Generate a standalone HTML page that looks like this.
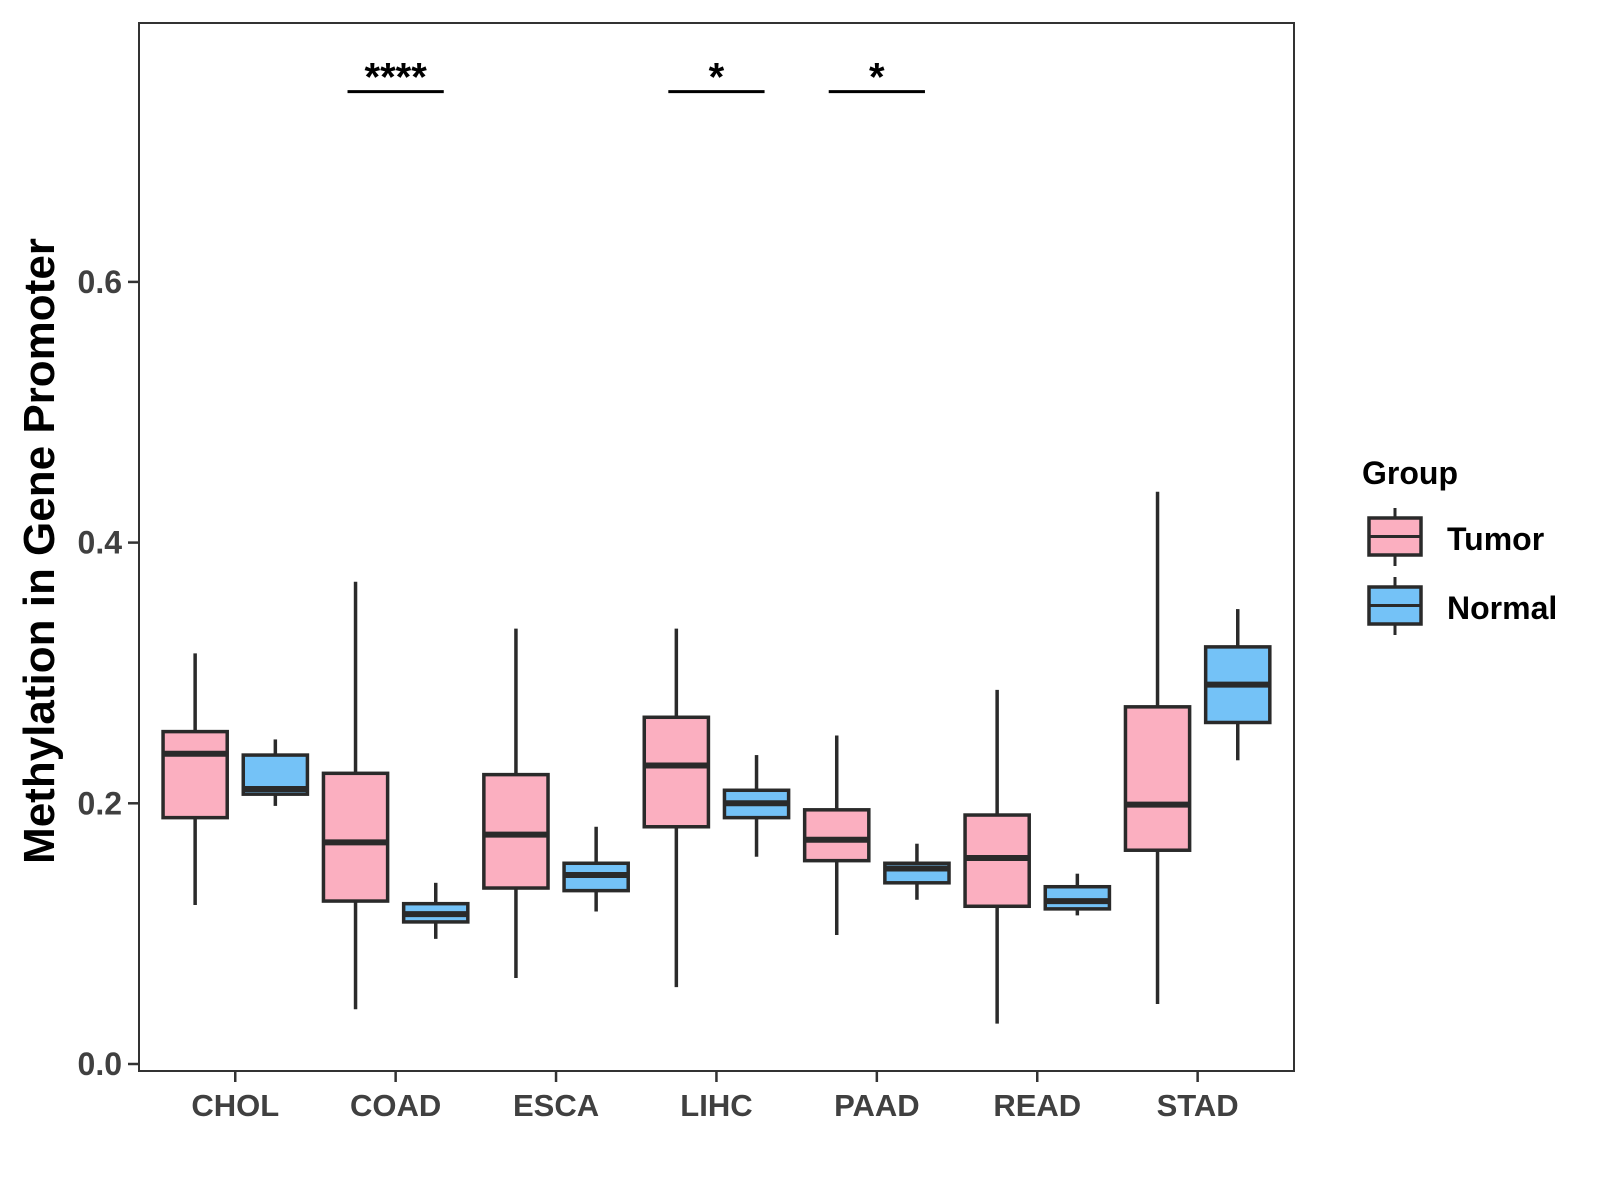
<!DOCTYPE html>
<html><head><meta charset="utf-8"><style>
html,body{margin:0;padding:0;background:#fff}
svg{display:block;font-family:"Liberation Sans",Arial,sans-serif}
</style></head><body>
<svg id="chart" width="1600" height="1200" viewBox="0 0 1600 1200">
<rect width="1600" height="1200" fill="#fff"/>
<g id="plot"></g>
</svg>
<script>
const categories = ["CHOL","COAD","ESCA","LIHC","PAAD","READ","STAD"];
const tumorStats = [
 [0.122,0.189,0.238,0.255,0.315],
 [0.042,0.125,0.170,0.223,0.370],
 [0.066,0.135,0.176,0.222,0.334],
 [0.059,0.182,0.229,0.266,0.334],
 [0.099,0.156,0.172,0.195,0.252],
 [0.031,0.121,0.158,0.191,0.287],
 [0.046,0.164,0.199,0.274,0.439]];
const normalStats = [
 [0.198,0.207,0.211,0.237,0.249],
 [0.096,0.109,0.115,0.123,0.139],
 [0.117,0.133,0.145,0.154,0.182],
 [0.159,0.189,0.200,0.210,0.237],
 [0.126,0.139,0.150,0.154,0.169],
 [0.114,0.119,0.125,0.136,0.146],
 [0.233,0.262,0.291,0.320,0.349]];
const yTicks = [0.0,0.2,0.4,0.6];
const yTickLabels = ["0.0","0.2","0.4","0.6"];
const sigCategories = ["COAD","LIHC","PAAD"];
const sigLabels = ["****","*","*"];
const sigValue = 0.746;

const NS="http://www.w3.org/2000/svg";
const L=139,R=1294,T=23,B=1071;
const xs=c=>L+(c-0.4)*160.4;
const ys=v=>1064-v*1303.5;
const g=document.getElementById('plot');
function el(tag,attrs,parent){const e=document.createElementNS(NS,tag);for(const k in attrs)e.setAttribute(k,attrs[k]);(parent||g).appendChild(e);return e;}

const panel=el('rect',{x:L,y:T,width:R-L,height:B-T,fill:'none',stroke:'#333',"stroke-width":2});



yTicks.forEach((t,i)=>{
 const y=ys(t);
 const tk=el('line',{x1:L-11,x2:L,y1:y,y2:y,stroke:'#333',"stroke-width":2.5});
 
 
 const tx=el('text',{x:L-17,y:y+11,"text-anchor":"end","font-size":32,"font-weight":"bold",fill:'#404040'});
 tx.textContent=yTickLabels[i];
 
 
});
categories.forEach((c,i)=>{
 const x=xs(i+1);
 const tk=el('line',{x1:x,x2:x,y1:B,y2:B+11,stroke:'#333',"stroke-width":2.5});
 
 
 const tx=el('text',{x:x,y:1116,"text-anchor":"middle","font-size":31,"font-weight":"bold",fill:'#404040'});
 tx.textContent=c;
 
 
});

function drawBox(cx,s,fill,name){
 const hw=0.2*160.4;
 const grp=el('g',{});
 
 
 el('line',{x1:cx,x2:cx,y1:ys(s[4]),y2:ys(s[3]),stroke:'#2a2a2a',"stroke-width":3.5},grp);
 el('line',{x1:cx,x2:cx,y1:ys(s[1]),y2:ys(s[0]),stroke:'#2a2a2a',"stroke-width":3.5},grp);
 el('rect',{x:cx-hw,y:ys(s[3]),width:2*hw,height:ys(s[1])-ys(s[3]),fill:fill,stroke:'#2a2a2a',"stroke-width":3.5},grp);
 el('line',{x1:cx-hw,x2:cx+hw,y1:ys(s[2]),y2:ys(s[2]),stroke:'#2a2a2a',"stroke-width":6},grp);
}
categories.forEach((c,i)=>{
 drawBox(xs(i+1-0.25),tumorStats[i],'#fbafc0','tumor-box-'+c.toLowerCase());
 drawBox(xs(i+1+0.25),normalStats[i],'#74c2f7','normal-box-'+c.toLowerCase());
});

sigCategories.forEach((c,i)=>{
 const k=categories.indexOf(c)+1;
 const y=ys(sigValue);
 const ln=el('line',{x1:xs(k-0.3),x2:xs(k+0.3),y1:y,y2:y,stroke:'#000',"stroke-width":3});
 
 
 const tx=el('text',{x:xs(k),y:y-1,"text-anchor":"middle","font-size":40,"font-weight":"bold",fill:'#000'});
 tx.textContent=sigLabels[i];
 
 
});

const yt=el('text',{x:0,y:0,transform:'translate(54,551) rotate(-90)',"text-anchor":"middle","font-size":44,"font-weight":"bold",fill:'#000'});
yt.textContent='Methylation in Gene Promoter';



const lt=el('text',{x:1362,y:484,"font-size":32,"font-weight":"bold",fill:'#000'});
lt.textContent='Group';


[["Tumor",'#fbafc0',518,550],["Normal",'#74c2f7',587,619]].forEach(([lab,col,top,base])=>{
 const lg=el('g',{});
 
 
 el('line',{x1:1395,x2:1395,y1:top-10,y2:top+48,stroke:'#2a2a2a',"stroke-width":3},lg);
 el('rect',{x:1369,y:top,width:52,height:37,fill:col,stroke:'#2a2a2a',"stroke-width":3.5},lg);
 el('line',{x1:1369,x2:1421,y1:top+18.5,y2:top+18.5,stroke:'#2a2a2a',"stroke-width":3},lg);
 const t=el('text',{x:1447,y:base,"font-size":32,"font-weight":"bold",fill:'#000'},lg);
 t.textContent=lab;
});
</script>
</body></html>
